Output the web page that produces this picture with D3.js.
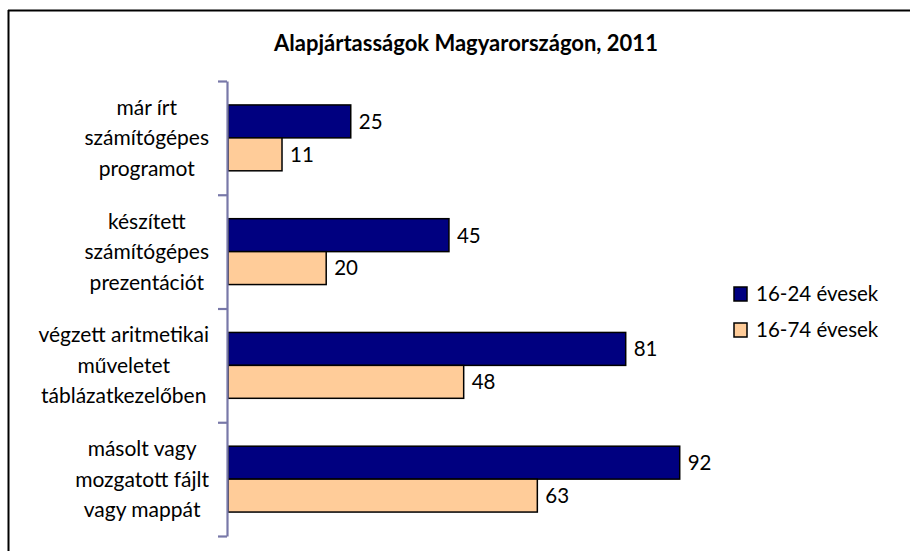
<!DOCTYPE html>
<html>
<head>
<meta charset="utf-8">
<script src="https://cdn.jsdelivr.net/npm/d3@7"></script>
<style>
  body { margin: 0; background: #fff; }
  svg { display: block; font-family: Lato, "Open Sans", sans-serif; }
</style>
</head>
<body>
<svg id="chart" width="910" height="551"></svg>
<script>
const categories = [
  ['már írt', 'számítógépes', 'programot'],
  ['készített', 'számítógépes', 'prezentációt'],
  ['végzett aritmetikai', 'műveletet', 'táblázatkezelőben'],
  ['másolt vagy', 'mozgatott fájlt', 'vagy mappát']
];
const series = ['16-24 évesek', '16-74 évesek'];
const young = [25, 45, 81, 92];
const all = [11, 20, 48, 63];
const colors = ['#000080', '#FFCC99'];

const svg = d3.select('#chart');

// frame (only top and left edges are visible in the crop)
svg.append('line').attr('x1', 8).attr('x2', 910).attr('y1', 10.5).attr('y2', 10.5)
  .attr('stroke', '#000').attr('stroke-width', 2);
svg.append('line').attr('x1', 8.5).attr('x2', 8.5).attr('y1', 10).attr('y2', 551)
  .attr('stroke', '#000').attr('stroke-width', 2);

svg.append('text')
  .attr('x', 466).attr('y', 51)
  .attr('text-anchor', 'middle')
  .attr('font-weight', 'bold')
  .attr('font-size', 22)
  .text('Alapjártasságok Magyarországon, 2011');

const x = d3.scaleLinear().domain([0, 100]).range([228, 719]);
const keys = categories.map((c, i) => i);
const y = d3.scaleBand().domain(keys).range([81, 536]);
const y1 = d3.scaleBand().domain(series).range([0, y.bandwidth()]).paddingOuter(0.727);

const rows = keys.map(i => ({ i, vals: [young[i], all[i]] }));

const g = svg.append('g');
rows.forEach(r => {
  r.vals.forEach((v, s) => {
    const by = y(r.i) + y1(series[s]);
    g.append('rect')
      .attr('x', x(0)).attr('y', by)
      .attr('width', x(v) - x(0)).attr('height', y1.bandwidth())
      .attr('fill', colors[s])
      .attr('stroke', '#000').attr('stroke-width', 1.5);
    g.append('text')
      .attr('x', x(v) + 8).attr('y', by + y1.bandwidth() / 2)
      .attr('dy', '0.36em')
      .attr('font-size', 20.5)
      .text(v);
  });
});

// category axis with ticks at band boundaries
const yb = d3.scaleLinear().domain([0, categories.length]).range([81, 536]);
const axis = svg.append('g')
  .attr('transform', `translate(${x(0) - 1},0)`)
  .call(d3.axisLeft(yb).ticks(categories.length).tickSize(9).tickSizeOuter(0).tickFormat(''));
axis.selectAll('path, line').attr('stroke', '#7878A8').attr('stroke-width', 2.2);

// category labels: block right aligned, lines centred in block
rows.forEach(r => {
  const lines = categories[r.i];
  const t = svg.append('text')
    .attr('font-size', 21)
    .attr('text-anchor', 'middle');
  const spans = lines.map((l, k) => t.append('tspan').text(l));
  const maxW = d3.max(spans, s => s.node().getComputedTextLength());
  const cx = 209 - maxW / 2;
  const cy = y(r.i) + y.bandwidth() / 2;
  spans.forEach((s, k) => s.attr('x', cx).attr('y', cy + (k - 1) * 30.5).attr('dy', '0.36em'));
});

// legend
const leg = svg.append('g').attr('transform', 'translate(734,287)');
series.forEach((s, k) => {
  leg.append('rect')
    .attr('x', 0).attr('y', k * 36).attr('width', 13).attr('height', 14)
    .attr('fill', colors[k]).attr('stroke', '#000').attr('stroke-width', 1.5);
  leg.append('text')
    .attr('x', 22).attr('y', k * 36 + 7).attr('dy', '0.36em')
    .attr('font-size', 20.5)
    .text(s);
});
</script>
</body>
</html>
